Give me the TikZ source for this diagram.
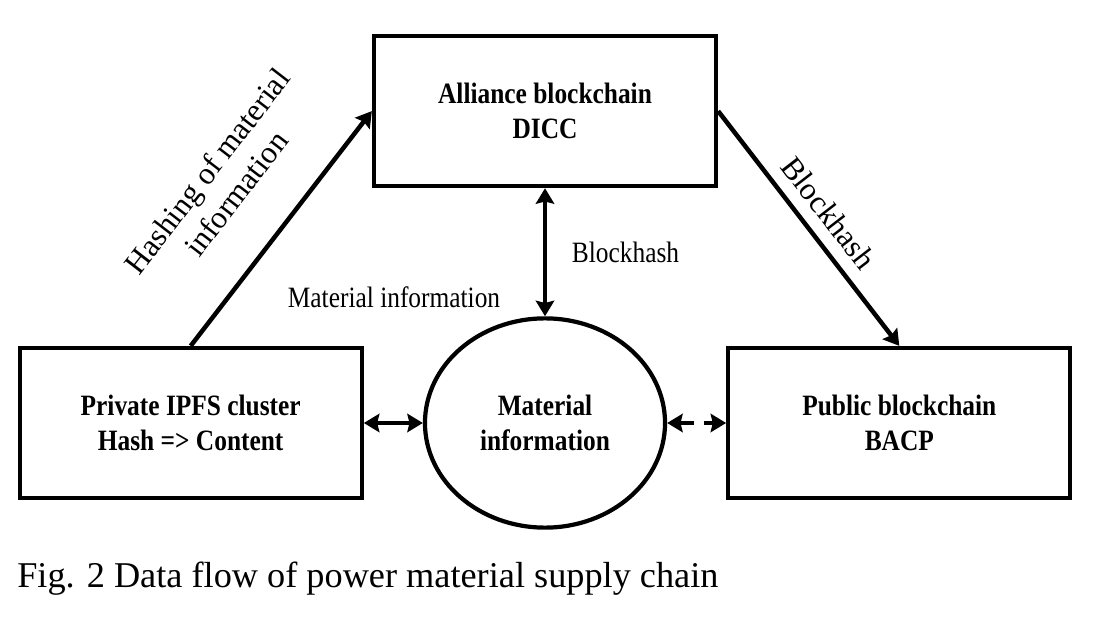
\documentclass[tikz,border=0pt]{standalone}
\usepackage{fontspec}
\setmainfont{Liberation Serif}
\newfontfamily\narrowfont[FakeStretch=0.86]{Liberation Serif}
\usetikzlibrary{shapes.geometric,arrows.meta,positioning}

\begin{document}
\begin{tikzpicture}[
  x=0.025cm, y=-0.025cm, node distance=14.75mm,
  font=\narrowfont\fontsize{21}{25}\selectfont,
  box/.style={draw, line width=3pt, align=center, minimum width=85.5mm,
              minimum height=37.5mm, font=\narrowfont\bfseries\fontsize{21}{25}\selectfont},
  oval/.style={box, ellipse, minimum width=60mm, minimum height=52.3mm},
  tilt/.style={midway, sloped, inner sep=0pt, align=center, font=\fontsize{22.3}{26}\selectfont},
  ar/.style={line width=3.2pt, -{Stealth[length=11pt, width=13pt, inset=1.5pt]}},
  dbl/.style={ar, {Stealth[length=11pt, width=13pt, inset=1.5pt]}-{Stealth[length=11pt, width=13pt, inset=1.5pt]}}]
  \useasboundingbox (0,0) rectangle (1116,622);
  \node[oval] (info) at (545,423) {Material\\information};
  \node[box, left=of info] (prv) {Private IPFS cluster\\Hash => Content};
  \node[box, right=of info] (pub) {Public blockchain\\BACP};
  \node[box, above=32mm of info] (all) {Alliance blockchain\\DICC};
  \draw[ar] (prv.north) -- (all.west)
       node[tilt, above=11mm] (lhash) {Hashing of material\\information};
  \draw[ar] (all.east) -- (pub.north)
       node[tilt, above=3mm] (lblk2) {Blockhash};
  \draw[dbl] (all) -- (info) node[midway, right=5mm] (lblk) {Blockhash};
  \draw[dbl] (prv) -- (info);
  \draw[dbl, dash pattern=on 10pt off 7pt] (info) -- (pub);
  \node (lmi) at (394,297) {Material information};
  \node[anchor=base west, inner sep=0pt, font=\fontsize{25.8}{30}\selectfont] (cap)
       at (17,587) {Fig. 2 Data flow of power material supply chain};
\end{tikzpicture}
\end{document}
